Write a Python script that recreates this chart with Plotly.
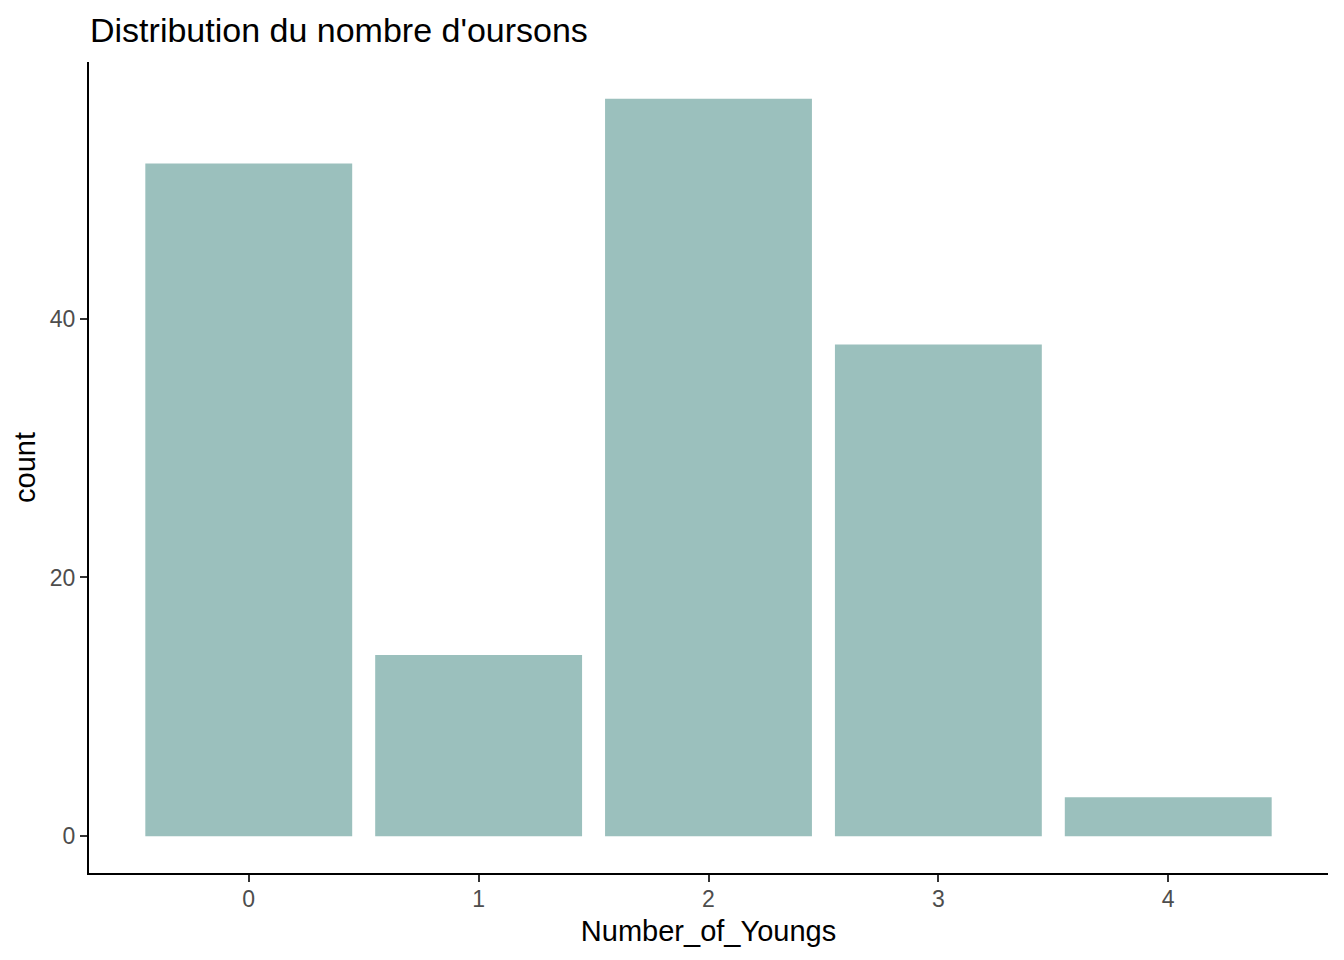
import plotly.graph_objects as go

categories = [0, 1, 2, 3, 4]
counts = [52, 14, 57, 38, 3]
y_ticks = [0, 20, 40]
x_tick_labels = ["0", "1", "2", "3", "4"]

W, H = 1344, 960
O = 8  # default page body margin offsets the figure
L, R, T, B = 89 - O, 16 + O, 62 - O, 87 + O

fig = go.Figure(go.Bar(x=categories, y=counts, width=0.9,
                       marker=dict(color="#9BC0BD", line=dict(width=0))))

font = "Liberation Sans, Arial, sans-serif"
fig.update_layout(
    width=W, height=H,
    margin=dict(l=L, r=R, t=T, b=B),
    paper_bgcolor="white", plot_bgcolor="white",
    showlegend=False,
    font=dict(family=font),
    title=dict(text="Distribution du nombre d'oursons", x=(90 - O) / W, xref="container", xanchor="left",
               y=1 - (30 - O) / H, yref="container", yanchor="middle",
               font=dict(size=34, color="black", family=font)),
)
fig.update_xaxes(range=[-0.695, 4.695], tickmode="array", tickvals=categories, ticktext=x_tick_labels,
                 showgrid=False, zeroline=False, showline=True, linecolor="black", linewidth=2,
                 ticks="outside", ticklen=7, tickwidth=2, tickcolor="#333333",
                 tickfont=dict(size=23, color="#4D4D4D", family=font), ticklabelstandoff=-3,
                 title=dict(text="Number_of_Youngs", font=dict(size=29, color="black", family=font), standoff=10))
fig.update_yaxes(range=[-2.85, 59.85], tickmode="array", tickvals=y_ticks,
                 showgrid=False, zeroline=False, showline=True, linecolor="black", linewidth=2,
                 ticks="outside", ticklen=7, tickwidth=2, tickcolor="#333333",
                 tickfont=dict(size=23, color="#4D4D4D", family=font),
                 title=dict(text="count", font=dict(size=29, color="black", family=font), standoff=6))

fig.write_html("out.html")
